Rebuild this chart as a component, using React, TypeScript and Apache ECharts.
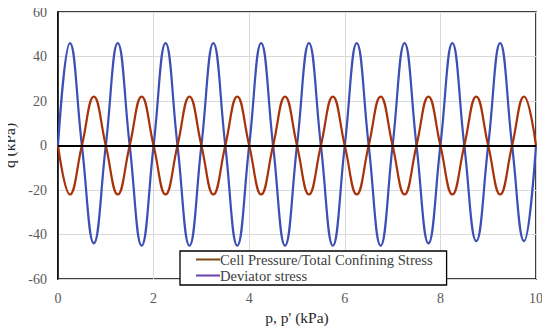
import React, { useEffect, useRef } from "react";
import * as echarts from "echarts";

// p, p' (kPa) sample positions: zero crossings and extremes of each cycle
const pValues = [
  0, 0.25, 0.5, 0.75, 1, 1.25, 1.5, 1.75, 2, 2.25, 2.5, 2.75, 3, 3.25, 3.5, 3.75,
  4, 4.25, 4.5, 4.75, 5, 5.25, 5.5, 5.75, 6, 6.25, 6.5, 6.75, 7, 7.25, 7.5, 7.75,
  8, 8.25, 8.5, 8.75, 9, 9.25, 9.5, 9.75, 10,
];
// Cell Pressure / Total Confining Stress (kPa)
const cellPressure = [
  0, -22, 0, 22, 0, -22, 0, 22, 0, -22, 0, 22, 0, -22, 0, 22,
  0, -22, 0, 22, 0, -22, 0, 22, 0, -22, 0, 22, 0, -22, 0, 22,
  0, -22, 0, 22, 0, -22, 0, 22, 0,
];
// Deviator stress (kPa)
const deviatorStress = [
  0, 46, 0, -44, 0, 46, 0, -45, 0, 46, 0, -45, 0, 46, 0, -45,
  0, 46, 0, -45, 0, 46, 0, -45, 0, 46, 0, -45, 0, 46, 0, -44,
  0, 46, 0, -43, 0, 46, 0, -43, 0,
];
const seriesNames = ["Cell Pressure/Total Confining Stress", "Deviator stress"];
const xTitle = "p, p' (kPa)";
const yTitle = "q (kPa)";

const FONT = "'Liberation Serif', 'Times New Roman', serif";

export default function App() {
  const ref = useRef<HTMLDivElement>(null);
  useEffect(() => {
    if (!ref.current) return;
    const chart = echarts.init(ref.current, undefined, { renderer: "svg" });
    chart.setOption({
      animation: false,
      backgroundColor: "#ffffff",
      grid: {
        left: 58,
        right: 14,
        top: 12,
        bottom: 57,
        containLabel: false,
        outerBoundsMode: "none",
        show: true,
        borderColor: "#000000",
        borderWidth: 1.5,
        backgroundColor: "transparent",
      },
      legend: {
        left: 180,
        top: 251,
        orient: "vertical",
        backgroundColor: "#ffffff",
        borderColor: "#000000",
        borderWidth: 1.3,
        borderRadius: 0,
        padding: [1, 14, 2, 16],
        itemGap: 1,
        itemWidth: 24,
        itemHeight: 2,
        icon: "rect",
        textStyle: { fontFamily: FONT, fontSize: 14.6, color: "#404040", padding: [0, 0, 0, -5] },
        data: seriesNames,
      },
      xAxis: {
        type: "value",
        min: 0,
        max: 10,
        interval: 2,
        name: xTitle,
        nameLocation: "middle",
        nameGap: 27,
        nameTextStyle: { fontFamily: FONT, fontSize: 15.5, color: "#262626" },
        axisLine: { show: true, lineStyle: { color: "#000", width: 1.5 } },
        axisTick: { show: false },
        axisLabel: { fontFamily: FONT, fontSize: 14, color: "#595959", margin: 12 },
        splitLine: { show: true, lineStyle: { color: "#d9d9d9", width: 1 } },
      },
      yAxis: {
        type: "value",
        min: -60,
        max: 60,
        interval: 20,
        name: yTitle,
        nameLocation: "middle",
        nameGap: 34,
        nameRotate: 90,
        nameTextStyle: { fontFamily: FONT, fontSize: 15.5, color: "#262626" },
        axisLine: { show: true, lineStyle: { color: "#000", width: 1.5 } },
        axisTick: { show: false },
        axisLabel: { fontFamily: FONT, fontSize: 14, color: "#595959", margin: 11 },
        splitLine: { show: true, lineStyle: { color: "#d9d9d9", width: 1 } },
      },
      series: [
        {
          name: seriesNames[0],
          type: "line",
          data: pValues.map((p, i) => [p, cellPressure[i]]),
          smooth: 0.45,
          symbol: "none",
          color: "#7a4a10",
          lineStyle: { color: "#a8320a", width: 2.2 },
          z: 3,
          markLine: {
            silent: true,
            symbol: "none",
            label: { show: false },
            lineStyle: { color: "#000000", width: 2.2, type: "solid" },
            data: [{ yAxis: 0 }],
          },
        },
        {
          name: seriesNames[1],
          type: "line",
          data: pValues.map((p, i) => [p, deviatorStress[i]]),
          smooth: 0.45,
          symbol: "none",
          color: "#6a3fb0",
          lineStyle: { color: "#3b4fb5", width: 2.2 },
          z: 2,
        },
      ],
    });
    return () => chart.dispose();
  }, []);
  return <div ref={ref} style={{ width: 550, height: 336, margin: -8 }} />;
}
